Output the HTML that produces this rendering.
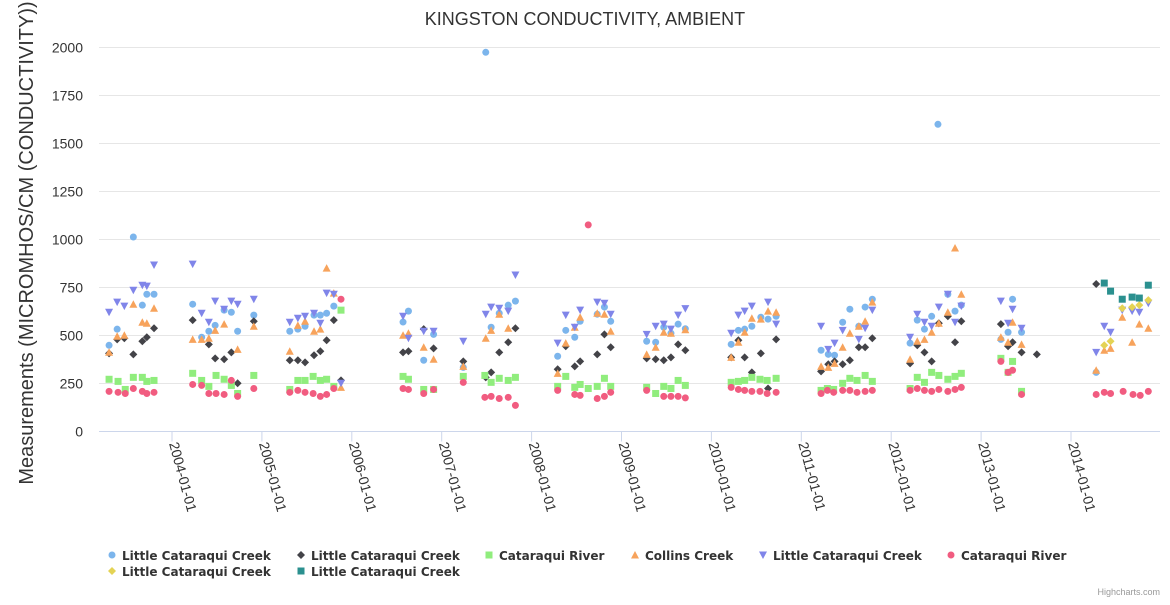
<!DOCTYPE html>
<html><head><meta charset="utf-8"><style>
html,body{margin:0;padding:0;background:#fff;}
svg text{font-family:"Liberation Sans","DejaVu Sans",sans-serif;}
svg text.lg{font-family:"DejaVu Sans",sans-serif;}
</style></head><body>
<svg id="chart" width="1170" height="600" xmlns="http://www.w3.org/2000/svg">
<text x="585" y="25" text-anchor="middle" font-size="18" fill="#333">KINGSTON CONDUCTIVITY, AMBIENT</text>
<text transform="translate(33,243) rotate(-90)" text-anchor="middle" font-size="20" fill="#333">Measurements (MICROMHOS/CM (CONDUCTIVITY))</text>
<g id="grid"></g><g id="xaxis"></g><g id="marks"></g><g id="legend"></g>
<text x="1160" y="595" text-anchor="end" font-size="9" fill="#999">Highcharts.com</text>
</svg>
<script>
const yTicks=[0,250,500,750,1000,1250,1500,1750,2000];
const xTickYears=[2004,2005,2006,2007,2008,2009,2010,2011,2012,2013,2014];
const seriesNames=["Little Cataraqui Creek","Little Cataraqui Creek","Cataraqui River","Collins Creek","Little Cataraqui Creek","Cataraqui River","Little Cataraqui Creek","Little Cataraqui Creek"];
const seriesColors=["#7cb5ec","#434348","#90ed7d","#f7a35c","#8085e9","#f15c80","#e4d354","#2b908f"];
const seriesSymbols=["circle","diamond","square","triangle","triangle-down","circle","diamond","square"];
const s1=[[2003.30,449],[2003.39,533],[2003.57,1013],[2003.67,658],[2003.72,715],[2003.80,715],[2004.23,663],[2004.33,491],[2004.41,522],[2004.48,553],[2004.58,632],[2004.66,621],[2004.73,522],[2004.91,606],[2005.31,522],[2005.40,533],[2005.48,548],[2005.58,606],[2005.65,606],[2005.72,616],[2005.80,653],[2006.57,570],[2006.63,627],[2006.80,371],[2006.91,506],[2007.24,334],[2007.49,1975],[2007.55,543],[2007.64,616],[2007.74,658],[2007.82,679],[2008.29,392],[2008.38,527],[2008.48,491],[2008.54,574],[2008.73,611],[2008.81,648],[2008.88,574],[2009.28,470],[2009.38,465],[2009.47,543],[2009.55,512],[2009.63,559],[2009.71,535],[2010.22,454],[2010.30,527],[2010.37,533],[2010.45,548],[2010.55,595],[2010.63,585],[2010.72,600],[2011.22,423],[2011.30,402],[2011.37,397],[2011.46,569],[2011.54,637],[2011.64,548],[2011.71,648],[2011.79,689],[2012.21,460],[2012.29,580],[2012.37,533],[2012.45,600],[2012.52,1600],[2012.63,715],[2012.71,627],[2012.78,658],[2013.22,480],[2013.30,517],[2013.35,689],[2013.45,517],[2014.28,308]];
const s2=[[2003.30,407],[2003.39,480],[2003.47,486],[2003.57,402],[2003.67,470],[2003.72,491],[2003.80,538],[2004.23,580],[2004.41,454],[2004.48,381],[2004.58,376],[2004.66,412],[2004.73,251],[2004.91,574],[2005.31,371],[2005.40,371],[2005.48,360],[2005.58,397],[2005.65,418],[2005.72,475],[2005.80,580],[2005.88,266],[2006.57,412],[2006.63,418],[2006.80,533],[2006.91,433],[2007.24,365],[2007.49,282],[2007.55,308],[2007.64,412],[2007.74,465],[2007.82,538],[2008.29,324],[2008.38,444],[2008.48,339],[2008.54,365],[2008.73,402],[2008.81,506],[2008.88,439],[2009.28,381],[2009.38,376],[2009.47,371],[2009.55,386],[2009.63,454],[2009.71,423],[2010.22,386],[2010.30,475],[2010.37,386],[2010.45,308],[2010.55,407],[2010.63,224],[2010.72,480],[2011.22,313],[2011.30,350],[2011.37,365],[2011.46,350],[2011.54,371],[2011.64,439],[2011.71,439],[2011.79,486],[2012.21,355],[2012.29,449],[2012.37,412],[2012.45,365],[2012.53,564],[2012.63,600],[2012.71,465],[2012.78,574],[2013.22,559],[2013.30,444],[2013.35,465],[2013.45,412],[2013.62,402],[2014.28,768]];
const s3=[[2003.30,272],[2003.40,261],[2003.48,219],[2003.57,282],[2003.67,282],[2003.72,261],[2003.80,266],[2004.23,303],[2004.33,266],[2004.41,235],[2004.49,292],[2004.58,272],[2004.66,240],[2004.73,198],[2004.91,292],[2005.31,219],[2005.40,266],[2005.48,266],[2005.57,287],[2005.65,266],[2005.72,272],[2005.80,235],[2005.88,632],[2006.57,287],[2006.63,272],[2006.80,219],[2006.91,219],[2007.24,287],[2007.48,292],[2007.55,256],[2007.64,277],[2007.74,266],[2007.82,282],[2008.29,235],[2008.38,287],[2008.48,230],[2008.54,245],[2008.63,224],[2008.73,235],[2008.81,277],[2008.88,235],[2009.28,230],[2009.38,198],[2009.47,235],[2009.55,224],[2009.63,266],[2009.71,240],[2010.22,256],[2010.30,261],[2010.37,266],[2010.45,282],[2010.54,272],[2010.62,266],[2010.72,277],[2011.22,214],[2011.29,224],[2011.36,219],[2011.46,251],[2011.54,277],[2011.62,266],[2011.71,292],[2011.79,261],[2012.21,224],[2012.29,282],[2012.37,256],[2012.45,308],[2012.53,292],[2012.63,272],[2012.71,287],[2012.78,303],[2013.22,381],[2013.30,308],[2013.35,365],[2013.45,209]];
const s4=[[2003.30,413],[2003.39,496],[2003.47,501],[2003.57,663],[2003.67,569],[2003.72,564],[2003.80,642],[2004.23,480],[2004.33,480],[2004.41,486],[2004.48,527],[2004.58,559],[2004.73,428],[2004.91,548],[2005.31,418],[2005.40,553],[2005.48,574],[2005.58,522],[2005.65,533],[2005.72,851],[2005.80,721],[2005.88,230],[2006.57,501],[2006.63,512],[2006.80,439],[2006.91,376],[2007.24,339],[2007.49,486],[2007.55,527],[2007.64,611],[2007.74,538],[2008.29,303],[2008.38,460],[2008.48,543],[2008.54,595],[2008.73,616],[2008.81,611],[2008.88,522],[2009.28,402],[2009.38,439],[2009.47,517],[2009.55,512],[2009.71,530],[2010.22,386],[2010.30,465],[2010.37,517],[2010.45,590],[2010.55,585],[2010.63,627],[2010.72,621],[2011.22,339],[2011.30,334],[2011.37,355],[2011.46,439],[2011.54,512],[2011.64,548],[2011.71,574],[2011.79,674],[2012.21,376],[2012.29,470],[2012.37,480],[2012.45,517],[2012.53,564],[2012.63,621],[2012.71,956],[2012.78,715],[2013.22,491],[2013.30,465],[2013.35,569],[2013.45,454],[2014.28,319],[2014.37,423],[2014.44,433],[2014.57,595],[2014.68,465],[2014.76,559],[2014.86,538]];
const s5=[[2003.30,621],[2003.39,674],[2003.47,653],[2003.57,736],[2003.67,762],[2003.72,757],[2003.80,867],[2004.23,872],[2004.33,616],[2004.41,569],[2004.48,679],[2004.58,637],[2004.66,679],[2004.73,663],[2004.91,689],[2005.31,569],[2005.40,590],[2005.48,600],[2005.58,616],[2005.65,564],[2005.72,721],[2005.80,715],[2005.88,251],[2006.57,600],[2006.63,486],[2006.80,522],[2006.91,522],[2007.24,470],[2007.49,611],[2007.55,648],[2007.64,642],[2007.74,627],[2007.82,815],[2008.29,460],[2008.38,606],[2008.48,543],[2008.54,632],[2008.73,674],[2008.81,668],[2008.88,611],[2009.28,506],[2009.38,548],[2009.47,559],[2009.55,533],[2009.63,606],[2009.71,640],[2010.22,512],[2010.30,606],[2010.37,627],[2010.45,653],[2010.63,674],[2010.72,559],[2011.22,548],[2011.30,428],[2011.37,460],[2011.46,527],[2011.64,480],[2011.71,538],[2011.79,632],[2012.21,491],[2012.29,611],[2012.37,569],[2012.45,548],[2012.53,648],[2012.63,715],[2012.71,569],[2012.78,653],[2013.22,679],[2013.30,564],[2013.35,637],[2013.45,538],[2014.28,412],[2014.37,548],[2014.44,517],[2014.57,632],[2014.68,627],[2014.76,621],[2014.86,668]];
const s6=[[2003.30,209],[2003.40,204],[2003.48,198],[2003.57,224],[2003.67,209],[2003.72,198],[2003.80,204],[2004.23,245],[2004.33,240],[2004.41,198],[2004.49,198],[2004.58,193],[2004.66,266],[2004.73,183],[2004.91,224],[2005.31,204],[2005.40,214],[2005.48,204],[2005.57,198],[2005.65,183],[2005.72,193],[2005.80,224],[2005.88,689],[2006.57,224],[2006.63,219],[2006.80,198],[2006.91,219],[2007.24,256],[2007.48,178],[2007.55,183],[2007.64,172],[2007.74,178],[2007.82,136],[2008.29,214],[2008.48,193],[2008.54,188],[2008.63,1076],[2008.73,172],[2008.81,183],[2008.88,204],[2009.28,214],[2009.47,183],[2009.55,183],[2009.63,183],[2009.71,175],[2010.22,230],[2010.30,219],[2010.37,214],[2010.45,209],[2010.54,209],[2010.62,198],[2010.72,204],[2011.22,198],[2011.29,214],[2011.36,204],[2011.46,214],[2011.54,214],[2011.62,204],[2011.71,209],[2011.79,214],[2012.21,214],[2012.29,224],[2012.37,214],[2012.45,209],[2012.53,219],[2012.63,209],[2012.71,219],[2012.78,230],[2013.22,365],[2013.30,308],[2013.35,319],[2013.45,193],[2014.28,193],[2014.37,204],[2014.44,198],[2014.58,209],[2014.69,193],[2014.77,188],[2014.86,209]];
const s7=[[2014.37,449],[2014.44,470],[2014.57,642],[2014.68,648],[2014.76,658],[2014.86,684]];
const s8=[[2014.37,773],[2014.44,731],[2014.57,689],[2014.68,700],[2014.76,695],[2014.86,762]];
const allSeries=[s1,s2,s3,s4,s5,s6,s7,s8];

const NS="http://www.w3.org/2000/svg";
const X0=99,X1=1160,Y0=431.5,Y1=47.5;
function xs(yr){return 172+(yr-2004)*89.9;}
function ys(v){return Y0-(v/2000)*(Y0-Y1);}
function mk(tag,attrs,parent){const e=document.createElementNS(NS,tag);for(const k in attrs)e.setAttribute(k,attrs[k]);parent.appendChild(e);return e;}
const grid=document.getElementById('grid'),xa=document.getElementById('xaxis'),marks=document.getElementById('marks'),leg=document.getElementById('legend');
yTicks.forEach(t=>{
  if(t>0){const l=mk('line',{x1:X0,x2:X1,y1:ys(t),y2:ys(t),stroke:'#e6e6e6','stroke-width':1},grid);
  
  }
  const tx=mk('text',{x:83,y:ys(t)+5,'text-anchor':'end','font-size':14,fill:'#333'},grid);
  tx.textContent=t;
  
  
});
const ax=mk('line',{x1:X0,x2:X1,y1:Y0,y2:Y0,stroke:'#ccd6eb','stroke-width':1},xa);


xTickYears.forEach(yr=>{
  const x=xs(yr);
  const tk=mk('line',{x1:x,x2:x,y1:Y0,y2:Y0+10,stroke:'#ccd6eb'},xa);
  
  
  const tx=mk('text',{transform:`translate(${x-3},${Y0+12}) rotate(75)`,'font-size':14,fill:'#333'},xa);
  tx.textContent=yr+'-01-01';
  
  
});
function symbol(kind,x,y,color,parent){
  let e;
  if(kind==='circle')e=mk('circle',{cx:x,cy:y,r:3.5,fill:color},parent);
  else if(kind==='square')e=mk('rect',{x:x-3.5,y:y-3.5,width:7,height:7,fill:color},parent);
  else if(kind==='diamond')e=mk('path',{d:`M${x},${y-4}L${x+4},${y}L${x},${y+4}L${x-4},${y}Z`,fill:color},parent);
  else if(kind==='triangle')e=mk('path',{d:`M${x},${y-4}L${x+4},${y+3.5}L${x-4},${y+3.5}Z`,fill:color},parent);
  else e=mk('path',{d:`M${x-4},${y-3.5}L${x+4},${y-3.5}L${x},${y+4}Z`,fill:color},parent);
  return e;
}
allSeries.forEach((s,i)=>{
  const g=mk('g',{},marks);
  
  
  s.forEach(p=>{
    const e=symbol(seriesSymbols[i],xs(p[0]),ys(p[1]),seriesColors[i],g);
    
    
  });
});
const legX=[112,301,489,635,763,951,112,301];
const legY=[556,556,556,556,556,556,572,572];
seriesNames.forEach((n,i)=>{
  const g=mk('g',{},leg);
  
  
  symbol(seriesSymbols[i],legX[i],legY[i]-1,seriesColors[i],g);
  const t=mk('text',{x:legX[i]+10,y:legY[i]+4,'font-size':12,'font-weight':'bold',fill:'#333','class':'lg'},g);
  t.textContent=n;
});
</script>
</body></html>
